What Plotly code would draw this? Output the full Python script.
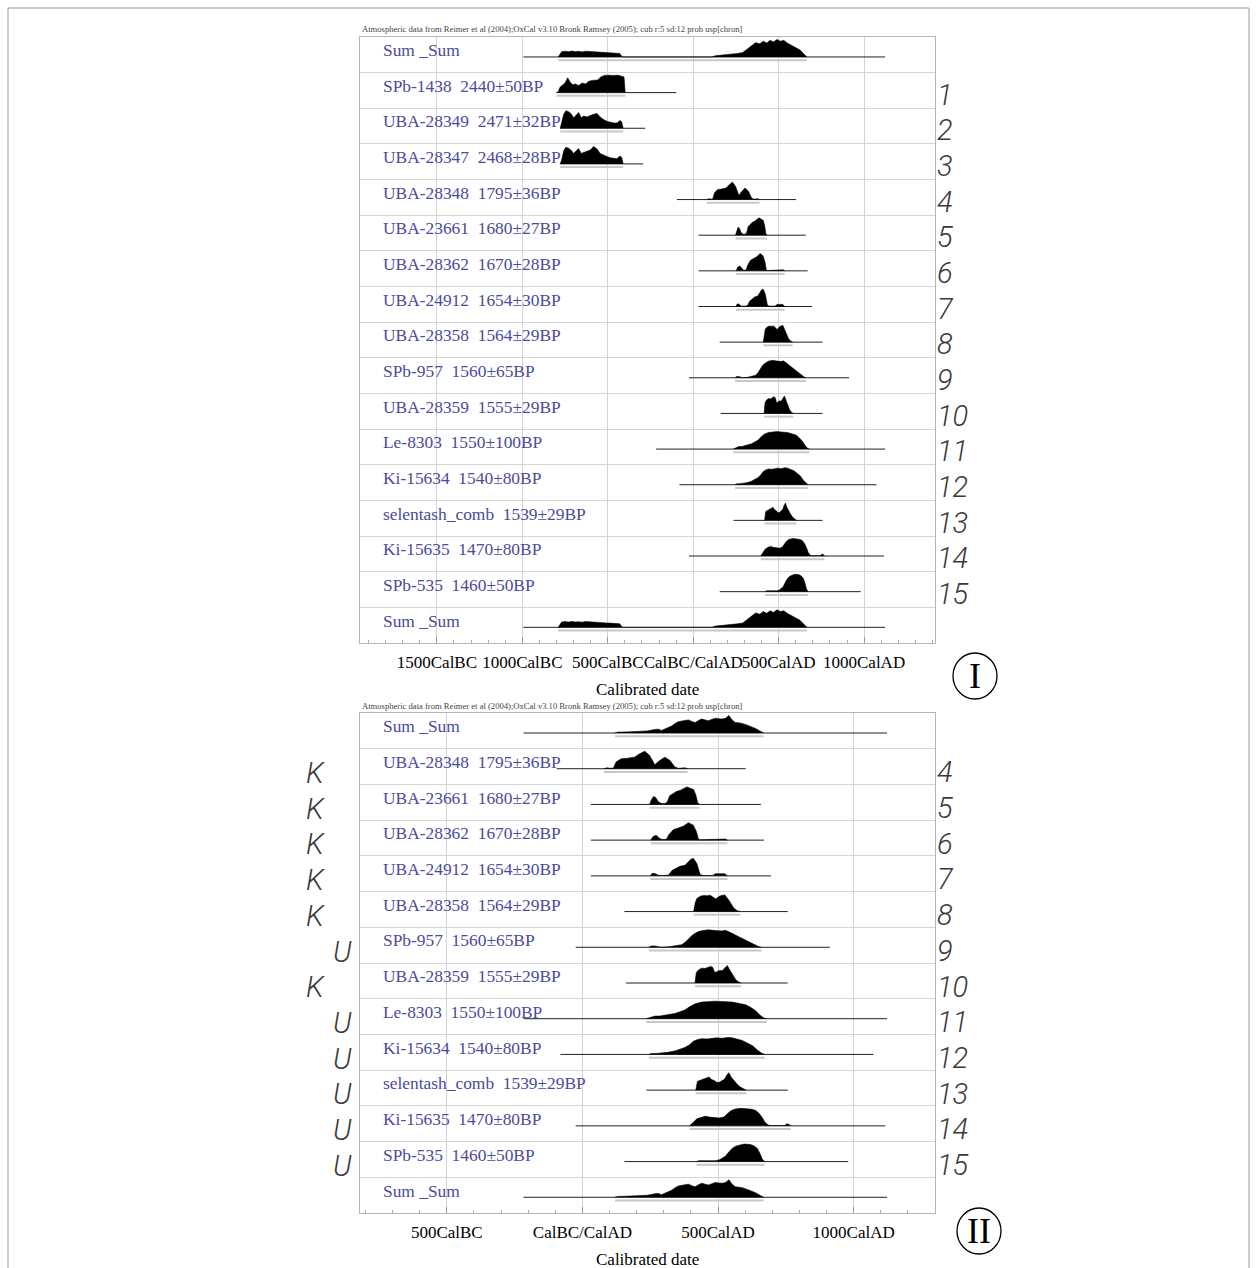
import plotly.graph_objects as go

W, H = 1257, 1268

# ---------------- data ----------------
labels_I = ["Sum _Sum", "SPb-1438  2440±50BP", "UBA-28349  2471±32BP", "UBA-28347  2468±28BP",
            "UBA-28348  1795±36BP", "UBA-23661  1680±27BP", "UBA-28362  1670±28BP",
            "UBA-24912  1654±30BP", "UBA-28358  1564±29BP", "SPb-957  1560±65BP",
            "UBA-28359  1555±29BP", "Le-8303  1550±100BP", "Ki-15634  1540±80BP",
            "selentash_comb  1539±29BP", "Ki-15635  1470±80BP", "SPb-535  1460±50BP", "Sum _Sum"]
sample_numbers = list(range(1, 16))
groups_II = ["K", "K", "K", "K", "K", "U", "K", "U", "U", "U", "U", "U"]  # samples 4..15

line_lo = [-800, -780, -780, -95, 31, 31, 31, 155, -25, 161, -217, -81, 236, -25, 155]
line_hi = [-99, -281, -292, 602, 658, 670, 695, 757, 912, 757, 1123, 1073, 757, 1117, 980]

y01 = [-800, -790, -780, -765, -750, -735, -720, -705, -690, -670, -650, -630, -610, -590, -560, -540, -520, -495, -470, -440, -420, -405, -398]
d01 = [0, 0.05, 0.3, 0.4, 0.55, 0.85, 0.6, 0.45, 0.5, 0.4, 0.55, 0.5, 0.65, 0.7, 0.72, 0.9, 0.98, 1.0, 0.98, 1.0, 0.95, 0.9, 0]
y02 = [-778, -768, -758, -745, -730, -716, -700, -685, -671, -655, -641, -622, -602, -583, -563, -545, -525, -505, -485, -465, -447, -435, -427, -418, -410]
d02 = [0, 0.35, 0.8, 1.0, 0.95, 0.85, 0.6, 0.75, 0.9, 0.6, 0.7, 0.65, 0.75, 0.8, 0.85, 0.65, 0.5, 0.4, 0.35, 0.3, 0.3, 0.42, 0.45, 0.35, 0]
y03 = [-778, -768, -758, -745, -730, -716, -700, -685, -671, -655, -641, -622, -602, -583, -563, -545, -525, -505, -485, -465, -447, -435, -427, -418, -410]
d03 = [0, 0.3, 0.75, 0.95, 0.9, 0.8, 0.6, 0.72, 0.88, 0.6, 0.65, 0.7, 0.8, 1.0, 0.85, 0.6, 0.5, 0.42, 0.35, 0.32, 0.3, 0.4, 0.45, 0.35, 0]
y04 = [80, 90, 105, 115, 124, 143, 167, 192, 211, 230, 248, 267, 285, 304, 323, 341, 354, 365, 378, 388]
d04 = [0, 0.05, 0.02, 0.05, 0.38, 0.57, 0.6, 0.66, 0.85, 1.0, 0.75, 0.23, 0.47, 0.66, 0.47, 0.1, 0.02, 0.05, 0.05, 0]
y05 = [248, 254, 262, 270, 280, 292, 305, 313, 322, 335, 348, 360, 372, 385, 398, 410, 418, 425, 432]
d05 = [0, 0.25, 0.45, 0.4, 0.15, 0.05, 0.05, 0.15, 0.5, 0.62, 0.75, 0.8, 0.88, 1.0, 0.92, 0.85, 0.55, 0.1, 0]
y06 = [252, 260, 272, 285, 295, 310, 318, 335, 354, 372, 391, 409, 420, 428, 435, 480, 490, 527, 535]
d06 = [0, 0.2, 0.28, 0.1, 0.03, 0.05, 0.3, 0.6, 0.7, 0.8, 1.0, 0.85, 0.5, 0.05, 0.02, 0.02, 0.06, 0.06, 0]
y07 = [250, 258, 270, 282, 300, 318, 330, 341, 360, 378, 390, 400, 409, 422, 434, 445, 480, 490, 525, 535]
d07 = [0, 0.15, 0.12, 0.02, 0.02, 0.05, 0.3, 0.4, 0.55, 0.6, 0.8, 0.95, 1.0, 0.7, 0.08, 0.02, 0.02, 0.12, 0.12, 0]
y08 = [410, 416, 422, 435, 447, 460, 471, 483, 492, 502, 512, 525, 540, 558, 571, 582]
d08 = [0, 0.5, 0.75, 0.88, 0.92, 0.9, 0.93, 0.8, 0.72, 0.85, 0.92, 0.95, 0.65, 0.2, 0.05, 0]
y09 = [245, 254, 266, 279, 290, 320, 345, 366, 380, 391, 404, 416, 428, 440, 452, 465, 480, 502, 515, 527, 540, 552, 567, 583, 598, 614, 627, 639, 651, 660]
d09 = [0, 0.07, 0.08, 0.02, 0.0, 0.03, 0.08, 0.15, 0.3, 0.5, 0.68, 0.8, 0.9, 0.95, 0.97, 1.0, 0.97, 0.95, 0.93, 0.97, 0.9, 0.8, 0.68, 0.55, 0.42, 0.3, 0.2, 0.1, 0.03, 0]
y10 = [415, 420, 428, 440, 452, 462, 472, 480, 488, 496, 505, 515, 525, 534, 545, 555, 565, 575, 585]
d10 = [0, 0.6, 0.75, 0.85, 0.83, 0.88, 0.95, 0.9, 0.6, 0.65, 0.72, 0.7, 0.85, 1.0, 0.7, 0.45, 0.2, 0.07, 0]
y11 = [235, 245, 267, 285, 304, 325, 341, 360, 378, 395, 416, 440, 465, 490, 515, 540, 552, 575, 602, 620, 639, 655, 668, 680]
d11 = [0, 0.06, 0.15, 0.15, 0.2, 0.25, 0.3, 0.4, 0.5, 0.68, 0.85, 0.95, 0.98, 1.0, 0.98, 0.97, 0.95, 0.88, 0.8, 0.65, 0.45, 0.2, 0.05, 0]
y12 = [245, 254, 275, 292, 315, 341, 360, 378, 395, 409, 425, 440, 460, 478, 495, 515, 535, 552, 570, 589, 608, 627, 645, 660, 672]
d12 = [0, 0.05, 0.06, 0.08, 0.12, 0.2, 0.3, 0.4, 0.55, 0.75, 0.85, 0.9, 0.88, 0.9, 0.95, 0.92, 0.97, 0.95, 0.88, 0.8, 0.65, 0.5, 0.25, 0.08, 0]
y13 = [418, 424, 432, 447, 458, 467, 477, 486, 495, 505, 515, 524, 532, 540, 548, 558, 570, 582, 596, 604]
d13 = [0, 0.5, 0.55, 0.62, 0.7, 0.75, 0.6, 0.55, 0.45, 0.45, 0.55, 0.62, 0.85, 1.0, 0.75, 0.55, 0.35, 0.18, 0.05, 0]
y14 = [395, 403, 412, 422, 438, 453, 468, 490, 505, 521, 535, 546, 560, 583, 605, 625, 639, 652, 664, 673, 685, 695, 745, 752, 760, 768]
d14 = [0, 0.1, 0.25, 0.4, 0.5, 0.55, 0.5, 0.45, 0.45, 0.5, 0.7, 0.85, 0.95, 1.0, 0.98, 0.95, 0.88, 0.7, 0.45, 0.2, 0.05, 0.02, 0.02, 0.1, 0.1, 0]
y15 = [420, 430, 460, 490, 505, 515, 527, 540, 552, 565, 578, 589, 600, 608, 620, 632, 645, 655, 663, 672]
d15 = [0, 0.05, 0.05, 0.05, 0.1, 0.2, 0.3, 0.55, 0.75, 0.88, 0.95, 0.98, 1.0, 1.0, 0.97, 0.9, 0.75, 0.45, 0.15, 0]

sumI_lo, sumI_hi = -994, 1123
sumI_y = [-790, -770, -750, -730, -710, -690, -670, -650, -630, -610, -590, -570, -550, -530, -510, -490, -470, -450, -430, -415,
          110, 130, 170, 220, 260, 290, 320, 345, 365, 390, 410, 430, 450, 470, 490, 510, 530, 550, 575, 600, 625, 645, 665]
sumI_d = [0, 0.3, 0.33, 0.3, 0.34, 0.3, 0.32, 0.29, 0.33, 0.31, 0.3, 0.28, 0.26, 0.27, 0.25, 0.24, 0.23, 0.24, 0.2, 0,
          0, 0.07, 0.1, 0.13, 0.2, 0.25, 0.5, 0.7, 0.82, 0.75, 0.9, 0.8, 0.95, 0.85, 1.0, 0.9, 0.95, 0.8, 0.65, 0.55, 0.4, 0.2, 0]

sumII_lo, sumII_hi = -217, 1123
sumII_y = [120, 130, 160, 190, 217, 240, 267, 280, 292, 310, 329, 342, 354, 372, 391, 405, 416, 428, 440, 452, 465, 478, 490,
           502, 515, 528, 540, 552, 564, 576, 589, 608, 627, 640, 651, 661, 668]
sumII_d = [0, 0.05, 0.06, 0.08, 0.1, 0.12, 0.2, 0.22, 0.15, 0.25, 0.4, 0.55, 0.65, 0.7, 0.75, 0.65, 0.6, 0.72, 0.8, 0.75, 0.7,
           0.78, 0.85, 0.82, 0.8, 0.85, 1.0, 0.75, 0.6, 0.58, 0.55, 0.45, 0.35, 0.25, 0.15, 0.05, 0]

ticks_I = [-1500, -1000, -500, 0, 500, 1000]
ticktext_I = ["1500CalBC", "1000CalBC", "500CalBC", "CalBC/CalAD", "500CalAD", "1000CalAD"]
ticks_II = [-500, 0, 500, 1000]
ticktext_II = ["500CalBC", "CalBC/CalAD", "500CalAD", "1000CalAD"]

header = "Atmospheric data from Reimer et al (2004);OxCal v3.10 Bronk Ramsey (2005); cub r:5 sd:12 prob usp[chron]"

dist_years = [y01, y02, y03, y04, y05, y06, y07, y08, y09, y10, y11, y12, y13, y14, y15]
dist_dens = [d01, d02, d03, d04, d05, d06, d07, d08, d09, d10, d11, d12, d13, d14, d15]

# ---------------- styling ----------------
BASE = 0.56
AMP = 0.49
SERIF = "Liberation Serif"
LABEL_COL = "#4b4b9c"
GRID = "#d4d4d4"
FRAME = "#b5b5b5"


def px(x):
    return x / W


def py(y):
    return 1 - y / H


fig = go.Figure()


def add_row(row, years, dens, lo, hi, xa, ya):
    base = row + BASE
    fig.add_trace(go.Scatter(x=[lo, hi], y=[base, base], mode="lines",
                             line=dict(color="#222", width=1), xaxis=xa, yaxis=ya, hoverinfo="skip"))
    fig.add_trace(go.Scatter(x=[min(years), max(years)], y=[base + 0.09, base + 0.09], mode="lines",
                             line=dict(color="#c8c8c8", width=2), xaxis=xa, yaxis=ya, hoverinfo="skip"))
    fig.add_trace(go.Scatter(x=years, y=[base - AMP * d for d in dens], mode="lines", fill="toself",
                             fillcolor="black", line=dict(color="black", width=0.6),
                             xaxis=xa, yaxis=ya, hoverinfo="skip"))


# Panel I
add_row(0, sumI_y, sumI_d, sumI_lo, sumI_hi, "x", "y")
for i in range(15):
    add_row(i + 1, dist_years[i], dist_dens[i], line_lo[i], line_hi[i], "x", "y")
add_row(16, sumI_y, sumI_d, sumI_lo, sumI_hi, "x", "y")

# Panel II (samples 4..15)
labels_II = [labels_I[0]] + labels_I[4:16] + [labels_I[16]]
add_row(0, sumII_y, sumII_d, sumII_lo, sumII_hi, "x2", "y2")
for k, i in enumerate(range(3, 15)):
    add_row(k + 1, dist_years[i], dist_dens[i], line_lo[i], line_hi[i], "x2", "y2")
add_row(13, sumII_y, sumII_d, sumII_lo, sumII_hi, "x2", "y2")

ann = []
for r, t in enumerate(labels_I):
    ann.append(dict(x=px(381), xref="paper", y=r + 0.37, yref="y", text=t, showarrow=False,
                    xanchor="left", yanchor="middle", font=dict(family=SERIF, size=17.4, color=LABEL_COL)))
for r, t in enumerate(labels_II):
    ann.append(dict(x=px(381), xref="paper", y=r + 0.37, yref="y2", text=t, showarrow=False,
                    xanchor="left", yanchor="middle", font=dict(family=SERIF, size=17.4, color=LABEL_COL)))

numfont = dict(family="Roboto", size=29, color="#3a3a3a", style="italic", weight=300)
for n in sample_numbers:
    ann.append(dict(x=px(935), xref="paper", y=n + 0.62, yref="y", text=str(n), showarrow=False,
                    xanchor="left", yanchor="middle", font=numfont))
for k, n in enumerate(sample_numbers[3:]):
    ann.append(dict(x=px(935), xref="paper", y=k + 1 + 0.66, yref="y2", text=str(n), showarrow=False,
                    xanchor="left", yanchor="middle", font=numfont))
    g = groups_II[k]
    ann.append(dict(x=px(315 if g == "K" else 342), xref="paper", y=k + 1 + 0.68, yref="y2", text=g,
                    showarrow=False, xanchor="center", yanchor="middle", font=numfont))

for yy in (29, 706):
    ann.append(dict(x=px(360), xref="paper", y=py(yy), yref="paper", text=header, showarrow=False,
                    xanchor="left", yanchor="middle", font=dict(family=SERIF, size=8.6, color="#444")))
for yy in (690, 1259):
    ann.append(dict(x=px(647), xref="paper", y=py(yy), yref="paper", text="Calibrated date", showarrow=False,
                    xanchor="center", yanchor="middle", font=dict(family=SERIF, size=17, color="black")))
ann.append(dict(x=px(975), xref="paper", y=py(676), yref="paper", text="I", showarrow=False,
                xanchor="center", yanchor="middle", font=dict(family=SERIF, size=36, color="black")))
ann.append(dict(x=px(979), xref="paper", y=py(1231), yref="paper", text="II", showarrow=False,
                xanchor="center", yanchor="middle", font=dict(family=SERIF, size=36, color="black")))

shapes = [
    dict(type="circle", xref="paper", yref="paper", x0=px(953), x1=px(997), y0=py(699), y1=py(653),
         line=dict(color="black", width=1.3)),
    dict(type="circle", xref="paper", yref="paper", x0=px(957), x1=px(1001), y0=py(1254), y1=py(1208),
         line=dict(color="black", width=1.3)),
    dict(type="rect", xref="paper", yref="paper", x0=px(8), x1=px(1249), y0=-0.02, y1=py(8),
         line=dict(color="#9a9a9a", width=1)),
]

xcommon = dict(showgrid=True, gridcolor=GRID, gridwidth=1, zeroline=False, showline=True, mirror=True,
               linecolor=FRAME, linewidth=1, ticks="inside", ticklen=6, tickcolor="#999", tickangle=0,
               tickfont=dict(family=SERIF, size=17, color="black"), ticklabelstandoff=4,
               minor=dict(tickmode="linear", tick0=0, dtick=100, ticks="inside", ticklen=3,
                          tickcolor="#aaa", showgrid=False))
ycommon = dict(showgrid=True, gridcolor=GRID, gridwidth=1, zeroline=False, showline=True, mirror=True,
               linecolor=FRAME, linewidth=1, showticklabels=False, tickmode="linear", tick0=0, dtick=1,
               ticks="")

fig.update_layout(
    width=W, height=H, margin=dict(l=0, r=0, t=0, b=0),
    paper_bgcolor="white", plot_bgcolor="white", showlegend=False,
    xaxis=dict(domain=[px(360), px(935)], range=[-1950, 1415], anchor="y", tickmode="array",
               tickvals=ticks_I, ticktext=ticktext_I, **xcommon),
    yaxis=dict(domain=[py(643), py(37)], range=[17, 0], anchor="x", **ycommon),
    xaxis2=dict(domain=[px(360), px(935)], range=[-820, 1300], anchor="y2", tickmode="array",
                tickvals=ticks_II, ticktext=ticktext_II, **xcommon),
    yaxis2=dict(domain=[py(1213), py(713)], range=[14, 0], anchor="x2", **ycommon),
    annotations=ann, shapes=shapes,
)

fig.write_html("out.html", config={"displayModeBar": False},
               post_script="document.body.style.margin='0px';document.body.style.overflow='hidden';")
